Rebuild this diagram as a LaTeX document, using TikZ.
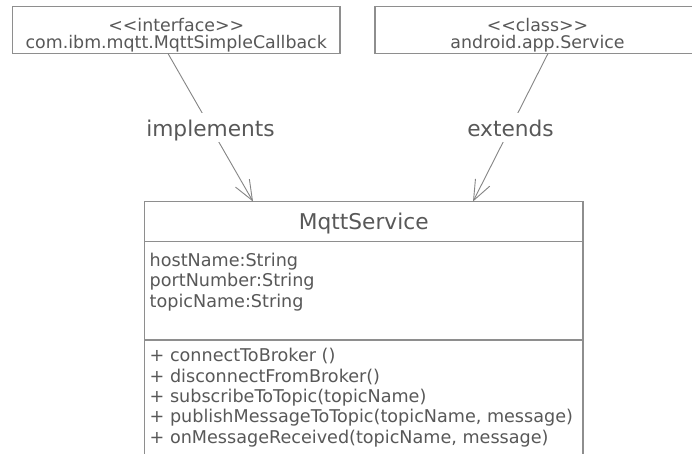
\documentclass[tikz,border=0pt]{standalone}
\usepackage{fontspec}
\setmainfont{DejaVu Sans}
\usetikzlibrary{arrows.meta}
\definecolor{umlline}{HTML}{8E8E8E}
\definecolor{umltext}{HTML}{585858}
\definecolor{umlarrow}{HTML}{858585}
% plain angle brackets (no guillemet ligature)
\newcommand{\stereoopen}{<\kern0pt<}
\newcommand{\stereoclose}{>\kern0pt>}
\begin{document}
\begin{tikzpicture}[x=1pt,y=-1pt,
  box/.style={draw=umlline, line width=1.2pt, rectangle, inner sep=0pt, outer sep=0pt, anchor=north west},
  stereo/.style={text=umltext, font=\fontsize{17.4}{17.7}\selectfont, inner sep=0pt, anchor=base},
  member/.style={text=umltext, font=\fontsize{17.6}{20.4}\selectfont, inner sep=0pt, anchor=base west},
  title/.style={text=umltext, font=\fontsize{21.7}{26}\selectfont, inner sep=0pt, anchor=base},
  rel/.style={draw=umlarrow, line width=0.9pt, -{Straight Barb[length=20pt,width=16pt]}},
  rellabel/.style={fill=white, text=umltext, font=\fontsize{21.7}{26}\selectfont, inner xsep=2pt, inner ysep=0pt, text height=23pt, text depth=5.5pt},
]
\useasboundingbox (0,0) rectangle (692,453);
\clip (0,0) rectangle (692,453);
\fill[white] (0,0) rectangle (692,453);

% interface and superclass boxes
\node[box, minimum width=327.5pt, minimum height=47pt] (iface) at (12.5,6.5) {};
\node[stereo] (ifaceKind) at (176.25,31) {\stereoopen interface\stereoclose};
\node[stereo] (ifaceName) at (176.25,48.5) {com.ibm.mqtt.MqttSimpleCallback};

\node[box, minimum width=325pt, minimum height=47pt] (super) at (375,6.5) {};
\node[stereo] (superKind) at (537.5,31) {\stereoopen class\stereoclose};
\node[stereo] (superName) at (537.5,48.5) {android.app.Service};

% class MqttService: name, attributes, operations
\node[box, minimum width=438.5pt, minimum height=40pt] (clsHead) at (144.5,201.5) {};
\node[box, minimum width=438.5pt, minimum height=98.5pt] (clsAttr) at (clsHead.south west) {};
\node[box, minimum width=438.5pt, minimum height=130pt] (clsOps) at (clsAttr.south west) {};

\node[title] (clsName) at (363.75,229) {MqttService};

% attributes
\node[member] (attrHost)  at (149.5,266)   {hostName:String};
\node[member] (attrPort)  at (149.5,286.5) {portNumber:String};
\node[member] (attrTopic) at (149.5,307)   {topicName:String};

% operations
\node[member] (opConnect)    at (149.5,361.8) {+ connectToBroker ()};
\node[member] (opDisconnect) at (149.5,382.1) {+ disconnectFromBroker()};
\node[member] (opSubscribe)  at (149.5,402.4) {+ subscribeToTopic(topicName)};
\node[member] (opPublish)    at (149.5,422.7) {+ publishMessageToTopic(topicName, message)};
\node[member] (opReceived)   at (149.5,443)   {+ onMessageReceived(topicName, message)};

% relations
\draw[rel] ([xshift=-8.25pt]iface.south) -- node[rellabel, pos=0.5] (implLabel) {implements} ([xshift=-110.75pt]clsHead.north);
\draw[rel] ([xshift=10.5pt]super.south) -- node[rellabel, pos=0.5] (extLabel) {extends} ([xshift=109.25pt]clsHead.north);
\end{tikzpicture}
\end{document}
